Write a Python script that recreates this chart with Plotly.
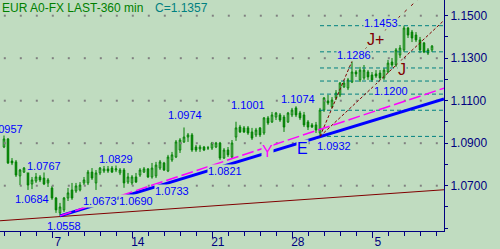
import plotly.graph_objects as go

# ---------------- data ----------------
bar_index = list(range(108))
opens = [1.0882,1.0920,1.0816,1.0812,1.0746,1.0764,1.0764,1.0708,1.0722,1.0741,
         1.0736,1.0713,1.0689,1.0642,1.0572,1.0586,1.0642,1.0680,1.0675,1.0680,
         1.0713,1.0713,1.0764,1.0713,1.0760,1.0769,1.0779,1.0783,1.0774,1.0760,
         1.0774,1.0717,1.0713,1.0741,1.0750,1.0764,1.0779,1.0741,1.0746,1.0783,
         1.0807,1.0769,1.0821,1.0835,1.0868,1.0906,1.0929,1.0939,1.0882,1.0873,
         1.0882,1.0877,1.0877,1.0882,1.0901,1.0830,1.0868,1.0835,1.0929,1.0976,
         1.0972,1.0972,1.0953,1.0939,1.0972,1.0948,1.1019,1.1000,1.1023,1.1033,
         1.1023,1.1000,1.1033,1.1066,1.1042,1.1033,1.1000,1.0986,1.0986,1.0948,
         1.1056,1.1099,1.1070,1.1113,1.1127,1.1165,1.1160,1.1188,1.1235,1.1198,
         1.1207,1.1235,1.1221,1.1226,1.1230,1.1207,1.1235,1.1282,1.1268,1.1315,
         1.1339,1.1442,1.1423,1.1409,1.1386,1.1372,1.1339,1.1339]
highs = [1.0957,1.0924,1.0830,1.0821,1.0779,1.0788,1.0774,1.0741,1.0760,1.0750,
         1.0767,1.0736,1.0699,1.0647,1.0619,1.0647,1.0689,1.0713,1.0713,1.0717,
         1.0741,1.0774,1.0783,1.0774,1.0788,1.0793,1.0793,1.0793,1.0829,1.0783,
         1.0783,1.0760,1.0750,1.0760,1.0783,1.0788,1.0783,1.0807,1.0812,1.0821,
         1.0812,1.0845,1.0859,1.0915,1.0924,1.0974,1.0948,1.0948,1.0892,1.0892,
         1.0887,1.0887,1.0906,1.0906,1.0906,1.0877,1.0882,1.0915,1.1001,1.0986,
         1.0981,1.0981,1.0972,1.0972,1.0976,1.1023,1.1028,1.1047,1.1047,1.1042,
         1.1033,1.1047,1.1066,1.1074,1.1052,1.1047,1.1009,1.0995,1.1000,1.1066,
         1.1117,1.1127,1.1117,1.1150,1.1188,1.1193,1.1207,1.1286,1.1244,1.1259,
         1.1268,1.1244,1.1235,1.1244,1.1244,1.1254,1.1292,1.1301,1.1348,1.1362,
         1.1453,1.1447,1.1433,1.1423,1.1400,1.1376,1.1348,1.1362]
lows = [1.0877,1.0802,1.0797,1.0741,1.0703,1.0760,1.0680,1.0684,1.0713,1.0717,
        1.0703,1.0694,1.0633,1.0572,1.0558,1.0576,1.0628,1.0633,1.0666,1.0673,
        1.0703,1.0703,1.0727,1.0680,1.0750,1.0760,1.0760,1.0760,1.0764,1.0750,
        1.0690,1.0708,1.0703,1.0713,1.0741,1.0760,1.0736,1.0733,1.0736,1.0774,
        1.0769,1.0764,1.0812,1.0830,1.0854,1.0901,1.0906,1.0859,1.0859,1.0859,
        1.0863,1.0868,1.0868,1.0877,1.0821,1.0826,1.0835,1.0830,1.0911,1.0948,
        1.0948,1.0939,1.0915,1.0929,1.0929,1.0939,1.0986,1.0995,1.1009,1.1000,
        1.0953,1.0995,1.1023,1.1023,1.1009,1.0976,1.0962,1.0972,1.0948,1.0932,
        1.1047,1.1080,1.1066,1.1103,1.1117,1.1160,1.1150,1.1183,1.1212,1.1188,
        1.1198,1.1198,1.1188,1.1207,1.1198,1.1198,1.1230,1.1259,1.1259,1.1301,
        1.1329,1.1395,1.1376,1.1376,1.1324,1.1324,1.1315,1.1329]
closes = [1.0920,1.0807,1.0807,1.0750,1.0774,1.0783,1.0703,1.0727,1.0741,1.0727,
          1.0708,1.0727,1.0642,1.0586,1.0600,1.0642,1.0666,1.0642,1.0699,1.0703,
          1.0727,1.0764,1.0736,1.0760,1.0783,1.0779,1.0769,1.0764,1.0779,1.0774,
          1.0713,1.0741,1.0741,1.0717,1.0774,1.0779,1.0741,1.0783,1.0797,1.0812,
          1.0774,1.0835,1.0845,1.0906,1.0915,1.0929,1.0939,1.0868,1.0868,1.0882,
          1.0868,1.0878,1.0901,1.0901,1.0830,1.0868,1.0845,1.0901,1.0972,1.0953,
          1.0953,1.0948,1.0924,1.0962,1.0939,1.1019,1.0995,1.1033,1.1042,1.1009,
          1.0976,1.1042,1.1056,1.1033,1.1019,1.0986,1.0976,1.0976,1.0962,1.1056,
          1.1113,1.1089,1.1103,1.1136,1.1183,1.1183,1.1198,1.1235,1.1226,1.1244,
          1.1244,1.1212,1.1198,1.1216,1.1207,1.1244,1.1277,1.1268,1.1339,1.1348,
          1.1442,1.1409,1.1395,1.1386,1.1339,1.1329,1.1324,1.1357]

# x-axis day labels (bar index of day boundary) and text
day_tick_pos = [12.2, 32.2, 52.2, 72.2, 92.2]
day_tick_text = ["7", "14", "21", "28", "5"]
price_tick_vals = [1.07, 1.09, 1.11, 1.13, 1.15]
price_tick_text = ["1.0700", "1.0900", "1.1100", "1.1300", "1.1500"]

# trend lines (bar index, price)
red_x, red_y = [-1, 110], [1.0535, 1.0681]
blue_x, blue_y = [14, 110], [1.0558, 1.1108]
mag_x, mag_y = [14, 110], [1.0558, 1.1159]
brown_a_x, brown_a_y = [79, 87], [1.0932, 1.1286]
brown_j_x, brown_j_y = [79, 110], [1.0932, 1.1478]
brown_jp_x, brown_jp_y = [87, 104], [1.1286, 1.1586]

# fibonacci retracement levels
fib_levels = [1.1453, 1.1330, 1.1254, 1.11925, 1.1131, 1.1055, 1.0932]
fib_start, fib_end = 79, 110

# swing labels: text, bar index, price, colour, size
labels = [
    ("1.0957", 0.4, 1.0967, "#0000FF", 11),
    ("1.0767", 10.0, 1.0793, "#0000FF", 11),
    ("1.0684", 7.0, 1.0637, "#0000FF", 11),
    ("1.0558", 15.0, 1.0511, "#0000FF", 11),
    ("1.0673", 24.0, 1.0628, "#0000FF", 11),
    ("1.0690", 32.9, 1.0628, "#0000FF", 11),
    ("1.0829", 28.0, 1.0826, "#0000FF", 11),
    ("1.0733", 42.0, 1.0675, "#0000FF", 11),
    ("1.0974", 45.25, 1.1034, "#0000FF", 11),
    ("1.0821", 55.25, 1.0769, "#0000FF", 11),
    ("1.1001", 61.0, 1.1082, "#0000FF", 11),
    ("1.1074", 73.6, 1.1106, "#0000FF", 11),
    ("1.0932", 82.4, 1.0887, "#0000FF", 11),
    ("1.1286", 87.5, 1.1313, "#0000FF", 11),
    ("1.1200", 96.75, 1.1146, "#0000FF", 11),
    ("1.1453", 94.25, 1.1468, "#0000FF", 11),
    ("J+", 92.75, 1.1390, "#800000", 16),
    ("J", 99.5, 1.1249, "#800000", 16),
    ("Y", 65.75, 1.0863, "#FF00FF", 16),
    ("E", 74.5, 1.0873, "#0000FF", 16),
]

# ---------------- styling ----------------
BG = "#C0DCC0"
NAVY = "#000080"
GREEN = "#008000"
FONT = "Liberation Sans, Arial, sans-serif"
X_RANGE = [-1, 110]
Y_RANGE = [1.04868, 1.15739]

fig = go.Figure()

# grid dots at day ticks x major price levels
grid_x_pos = [0.2 + 4 * k for k in range(28)]
gx, gy = [], []
for yv in price_tick_vals:
    for xv in grid_x_pos:
        gx.append(xv)
        gy.append(yv)
fig.add_trace(go.Scatter(x=gx, y=gy, mode="markers",
                         marker=dict(size=2, color="#808080", symbol="square", line=dict(width=0)),
                         hoverinfo="skip"))

# fib lines
fx, fy = [], []
for lv in fib_levels:
    fx += [fib_start, fib_end, None]
    fy += [lv, lv, None]
fig.add_trace(go.Scatter(x=fx, y=fy, mode="lines",
                         line=dict(color="#008080", width=1, dash="4px,3px"), hoverinfo="skip"))

fig.add_trace(go.Scatter(x=red_x, y=red_y, mode="lines",
                         line=dict(color="#800000", width=1.2), hoverinfo="skip"))

fig.add_trace(go.Candlestick(
    x=bar_index, open=opens, high=highs, low=lows, close=closes,
    increasing=dict(line=dict(color=GREEN, width=1), fillcolor=BG),
    decreasing=dict(line=dict(color=GREEN, width=1), fillcolor=GREEN),
    whiskerwidth=0, hoverinfo="skip"))

fig.add_trace(go.Scatter(x=blue_x, y=blue_y, mode="lines",
                         line=dict(color="#0000FF", width=3), hoverinfo="skip"))
fig.add_trace(go.Scatter(x=mag_x, y=mag_y, mode="lines",
                         line=dict(color="#FF00FF", width=1.5, dash="12px,4px"), hoverinfo="skip"))
for bx, by, dsh in [(brown_a_x, brown_a_y, "3px,2px"),
                    (brown_j_x, brown_j_y, "3px,2px"),
                    (brown_jp_x, brown_jp_y, "3px,6px")]:
    fig.add_trace(go.Scatter(x=bx, y=by, mode="lines",
                             line=dict(color="#800000", width=1, dash=dsh), hoverinfo="skip"))

annotations = []
for text, xi, yi, col, sz in labels:
    annotations.append(dict(
        x=xi, y=yi, xref="x", yref="y", text=text, showarrow=False,
        font=dict(family=FONT, size=sz, color=col),
        bgcolor=None if text == "1.0558" else BG, borderpad=0,
        xanchor="center", yanchor="middle"))

annotations.append(dict(x=0, y=1 - 8 / 231, xref="paper", yref="paper",
                        text="EUR A0-FX LAST-360 min", showarrow=False,
                        font=dict(family=FONT, size=12, color=GREEN),
                        xanchor="left", yanchor="middle"))
annotations.append(dict(x=152.7 / 444, y=1 - 8 / 231, xref="paper", yref="paper",
                        text="C=1.1357", showarrow=False,
                        font=dict(family=FONT, size=12, color="#008080"),
                        xanchor="left", yanchor="middle"))

fig.update_layout(
    width=500, height=249,
    margin=dict(l=0, r=56, t=0, b=18),
    paper_bgcolor=BG, plot_bgcolor=BG,
    showlegend=False,
    boxgap=0.45,
    annotations=annotations,
    xaxis=dict(
        range=X_RANGE, showgrid=False, zeroline=False,
        showline=True, linecolor=NAVY, linewidth=1,
        tickmode="array", tickvals=day_tick_pos, ticktext=day_tick_text,
        ticks="outside", ticklen=6, tickwidth=1, tickcolor=NAVY,
        tickfont=dict(family=FONT, size=12, color=NAVY),
        ticklabelshift=5, ticklabelstandoff=-6,
        minor=dict(tick0=0.2, dtick=4, ticks="outside", ticklen=4,
                   tickwidth=1, tickcolor=NAVY, showgrid=False),
        rangeslider=dict(visible=False), fixedrange=True,
    ),
    yaxis=dict(
        side="right", range=Y_RANGE, showgrid=False, zeroline=False,
        showline=True, linecolor=NAVY, linewidth=1,
        tickmode="array", tickvals=price_tick_vals, ticktext=price_tick_text,
        ticks="outside", ticklen=3, tickwidth=1, tickcolor=NAVY,
        tickfont=dict(family=FONT, size=12, color=NAVY),
        minor=dict(tick0=1.05, dtick=0.01, ticks="outside", ticklen=3,
                   tickwidth=1, tickcolor=NAVY, showgrid=False),
        fixedrange=True,
    ),
)

fig.write_html("out.html")
